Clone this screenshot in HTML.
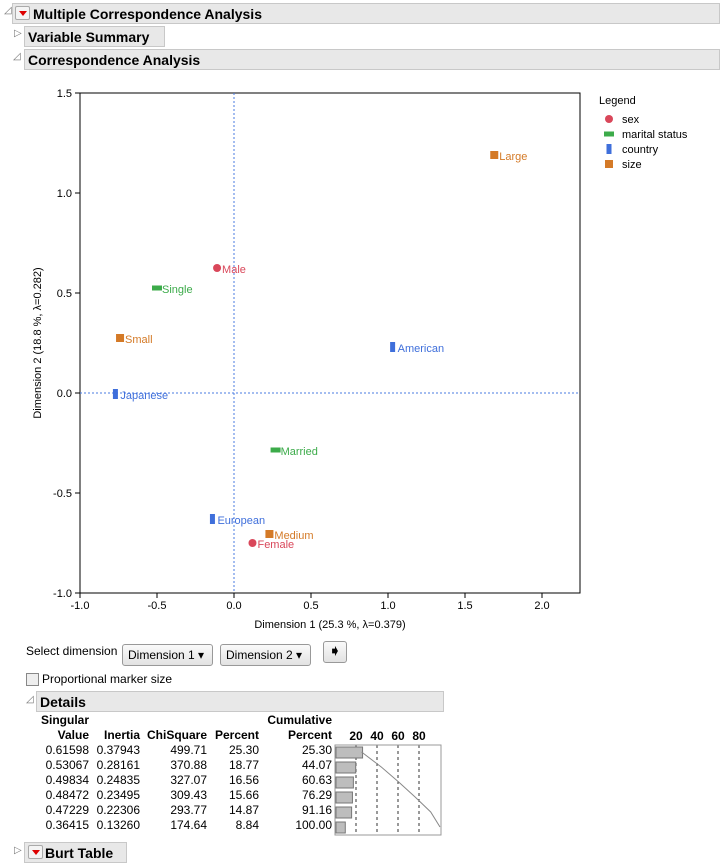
<!DOCTYPE html>
<html><head><meta charset="utf-8"><style>
body{margin:0;width:720px;height:863px;background:#fff;font-family:"Liberation Sans",sans-serif;position:relative;overflow:hidden;color:#000}
.abs{position:absolute}
.hdr{position:absolute;background:#e8e8e8;border:1px solid #c8c8c8;font-weight:bold;font-size:14px;line-height:20px;padding-left:3px;box-sizing:border-box;height:21px}
.tri{position:absolute;font-size:10px;color:#777}
.red{position:absolute;z-index:5;width:13px;height:12px;border:1px solid #aaa;border-radius:2px;background:#f4f4f4}
.red:after{content:"";position:absolute;left:3px;top:4px;border-left:4px solid transparent;border-right:4px solid transparent;border-top:5px solid #d00}
.btn{position:absolute;border:1px solid #999;border-radius:3px;background:linear-gradient(#fafafa,#e2e2e2);font-size:12px;line-height:20px;padding-left:5px;box-sizing:border-box;height:22px}
table{border-collapse:collapse;font-size:12px}
td{padding:0;height:15px;text-align:right;white-space:nowrap}
</style></head><body>
<span class="tri" style="left:4px;top:5px">◿</span>
<div class="hdr" style="left:12px;top:3px;width:708px;padding-left:20px">Multiple Correspondence Analysis</div>
<div class="red" style="left:15px;top:6px"></div>
<span class="tri" style="left:14px;top:28px">▷</span>
<div class="hdr" style="left:24px;top:26px;width:141px">Variable Summary</div>
<span class="tri" style="left:13px;top:51px">◿</span>
<div class="hdr" style="left:24px;top:49px;width:696px">Correspondence Analysis</div>

<svg class="abs" style="left:0;top:0" width="720" height="640" id="chart"></svg>

<div class="abs" style="left:26px;top:644px;font-size:12px">Select dimension</div>
<div class="btn" style="left:122px;top:644px;width:91px">Dimension 1 ▾</div>
<div class="btn" style="left:220px;top:644px;width:91px">Dimension 2 ▾</div>
<div class="btn" style="left:323px;top:641px;width:24px;padding:0;text-align:center;font-size:16px;line-height:20px">➧</div>
<div class="abs" style="left:26px;top:673px;width:11px;height:11px;border:1px solid #888;background:#eee"></div>
<div class="abs" style="left:42px;top:672px;font-size:12px">Proportional marker size</div>
<span class="tri" style="left:26px;top:694px">◿</span>
<div class="hdr" style="left:36px;top:691px;width:408px">Details</div>

<table class="abs" style="left:38px;top:712px">
<tr style="font-weight:bold"><td style="width:48px;text-align:left;padding-left:3px">Singular</td><td style="width:51px"></td><td style="width:67px"></td><td style="width:52px"></td><td style="width:73px">Cumulative</td></tr>
<tr style="font-weight:bold"><td>Value</td><td>Inertia</td><td>ChiSquare</td><td>Percent</td><td>Percent</td></tr>
<tr><td>0.61598</td><td>0.37943</td><td>499.71</td><td>25.30</td><td>25.30</td></tr>
<tr><td>0.53067</td><td>0.28161</td><td>370.88</td><td>18.77</td><td>44.07</td></tr>
<tr><td>0.49834</td><td>0.24835</td><td>327.07</td><td>16.56</td><td>60.63</td></tr>
<tr><td>0.48472</td><td>0.23495</td><td>309.43</td><td>15.66</td><td>76.29</td></tr>
<tr><td>0.47229</td><td>0.22306</td><td>293.77</td><td>14.87</td><td>91.16</td></tr>
<tr><td>0.36415</td><td>0.13260</td><td>174.64</td><td>8.84</td><td>100.00</td></tr>
</table>
<svg class="abs" style="left:330px;top:726px" width="120" height="112" id="mini"></svg>

<span class="tri" style="left:14px;top:845px">▷</span>
<div class="hdr" style="left:24px;top:842px;width:103px;padding-left:20px">Burt Table</div>
<div class="red" style="left:28px;top:845px"></div>

<script>
const labels=["Male","Female","Single","Married","American","European","Japanese","Large","Medium","Small"];
const groups=["sex","sex","marital status","marital status","country","country","country","size","size","size"];
const dim1=[-0.11,0.12,-0.50,0.27,1.03,-0.14,-0.77,1.69,0.23,-0.74];
const dim2=[0.625,-0.75,0.525,-0.285,0.23,-0.63,-0.005,1.19,-0.705,0.275];
const xTicks=[-1.0,-0.5,0.0,0.5,1.0,1.5,2.0];
const yTicks=[1.5,1.0,0.5,0.0,-0.5,-1.0];
const legendNames=["sex","marital status","country","size"];
const colors={"sex":"#d9475a","marital status":"#3cab4a","country":"#3f6fdb","size":"#d47a27"};
const pct=[25.30,18.77,16.56,15.66,14.87,8.84];
const cum=[25.30,44.07,60.63,76.29,91.16,100.00];
const gridVals=[20,40,60,80];

const NS="http://www.w3.org/2000/svg";
function mk(p,t,a){const e=document.createElementNS(NS,t);for(const k in a)e.setAttribute(k,a[k]);p.appendChild(e);return e;}
const svg=document.getElementById('chart');
const L=80,R=580,T=93,B=593;
const sx=v=>L+(v+1)*154, sy=v=>T+(1.5-v)*200;
const frame=mk(svg,'rect',{x:L,y:T,width:R-L,height:B-T,fill:'#fff',stroke:'#000','stroke-width':1});


const vz=mk(svg,'line',{x1:sx(0),x2:sx(0),y1:T,y2:B,stroke:'#4a7be0','stroke-dasharray':'2,2'});


const hz=mk(svg,'line',{x1:L,x2:R,y1:sy(0),y2:sy(0),stroke:'#4a7be0','stroke-dasharray':'2,2'});


xTicks.forEach(v=>{mk(svg,'line',{x1:sx(v),x2:sx(v),y1:B,y2:B+5,stroke:'#000'});
 const t=mk(svg,'text',{x:sx(v),y:B+16,'font-size':11,'text-anchor':'middle'});t.textContent=v.toFixed(1);
 
 });
yTicks.forEach(v=>{mk(svg,'line',{x1:L-5,x2:L,y1:sy(v),y2:sy(v),stroke:'#000'});
 const t=mk(svg,'text',{x:L-8,y:sy(v)+4,'font-size':11,'text-anchor':'end'});t.textContent=v.toFixed(1);
 
 });
const xt=mk(svg,'text',{x:330,y:628,'font-size':11,'text-anchor':'middle'});xt.textContent="Dimension 1  (25.3 %, λ=0.379)";


const yt=mk(svg,'text',{x:0,y:0,'font-size':11,'text-anchor':'middle',transform:'translate(41,343) rotate(-90)'});yt.textContent="Dimension 2  (18.8 %, λ=0.282)";


function marker(g,x,y){const c=colors[g];
 if(g==="sex")return mk(svg,'circle',{cx:x,cy:y,r:4,fill:c});
 if(g==="marital status")return mk(svg,'rect',{x:x-5,y:y-2.5,width:10,height:5,fill:c});
 if(g==="country")return mk(svg,'rect',{x:x-2.5,y:y-5,width:5,height:10,fill:c});
 return mk(svg,'rect',{x:x-4,y:y-4,width:8,height:8,fill:c});}
labels.forEach((n,i)=>{const x=sx(dim1[i]),y=sy(dim2[i]);
 const m=marker(groups[i],x,y);
 
 
 const t=mk(svg,'text',{x:x+5,y:y+5,'font-size':11,fill:colors[groups[i]]});t.textContent=n;
 
 });
const lt=mk(svg,'text',{x:599,y:104,'font-size':11});lt.textContent="Legend";


legendNames.forEach((g,i)=>{const y=119+i*15;const m=marker(g,609,y);
 
 
 const t=mk(svg,'text',{x:622,y:y+4,'font-size':11});t.textContent=g;
 
 });

const mini=document.getElementById('mini');
const mx=v=>5+v*1.05;
gridVals.forEach(v=>{const t=document.createElementNS(NS,'text');t.setAttribute('x',mx(v));t.setAttribute('y',14);t.setAttribute('font-size',12);t.setAttribute('font-weight','bold');t.setAttribute('text-anchor','middle');t.textContent=v;mini.appendChild(t);
 
 
 const l=mk(mini,'line',{x1:mx(v),x2:mx(v),y1:19,y2:109,stroke:'#333','stroke-dasharray':'3,3'});
 
 });
const box=mk(mini,'rect',{x:5,y:19,width:106,height:90,fill:'none',stroke:'#999'});


pct.forEach((p,i)=>{const b=mk(mini,'rect',{x:6,y:21+i*15,width:mx(p)-5,height:11,fill:'#bdbdbd',stroke:'#777'});
 
 });
const pts=cum.map((c,i)=>mx(c)+','+(26+i*15)).join(' ');
const pl=mk(mini,'polyline',{points:pts,fill:'none',stroke:'#888'});


</script>
</body></html>
